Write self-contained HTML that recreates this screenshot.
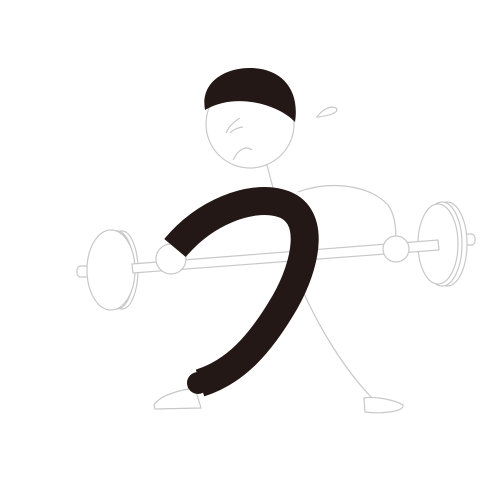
<!DOCTYPE html>
<html><head><meta charset="utf-8"><style>html,body{margin:0;padding:0;background:#fff;width:500px;height:500px;overflow:hidden}</style></head>
<body>
<svg width="500" height="500" viewBox="0 0 500 500">
<g fill="#fff" stroke="#c8c8c8" stroke-width="1.2">
 <path d="M298,192 C330,180 370,185 388,205 C395,215 396,228 396,240" fill="none"/>
 <path d="M267,165 L273,188" fill="none"/>
 <path d="M300,285 C320,330 345,370 372,398" fill="none"/>
 <g>
  <rect x="77" y="266" width="22" height="11" rx="4"/>
  <ellipse cx="122" cy="270" rx="16" ry="39"/>
  <ellipse cx="117" cy="270" rx="17" ry="39"/>
  <ellipse cx="111" cy="270" rx="24" ry="40"/>
 </g>
 <g>
  <rect x="455" y="234" width="20" height="11" rx="4"/>
  <ellipse cx="447" cy="244" rx="20" ry="42"/>
  <ellipse cx="442" cy="244" rx="20" ry="42"/>
  <ellipse cx="438" cy="244" rx="20" ry="40"/>
 </g>
 <path d="M132,264 L438,240 L439,250 L133,273 Z"/>
 <circle cx="171" cy="259" r="15"/>
 <circle cx="396" cy="249" r="13"/>
 <circle cx="250" cy="124" r="44"/>
 <path d="M240,118 C233,122 228,128 226,133 M243,127 C236,128 233,130 230,133" fill="none"/>
 <path d="M233,160 C238,150 245,145 252,150" fill="none"/>
 <path d="M317,117 C322,110 330,105 336,108 C340,112 330,116 317,117 Z"/>
 <path d="M154,405 C160,395 180,390 195,388 L201,408 L155,409 Z"/>
 <path d="M364,398 C375,396 395,400 403,405 C404,412 380,414 365,412 Z"/>
</g>
<path fill="#231815" d="M205,110 C200,82 225,68 250,68 C282,68 300,90 295,122 C278,104 235,92 205,110 Z"/>
<path fill="none" stroke="#231815" stroke-width="28" d="M175,248 C205,212 250,195 280,203 C318,213 306,265 285,302 C260,345 235,372 200,383"/>
<circle cx="198" cy="383" r="11" fill="#231815"/>
</svg>
</body></html>
